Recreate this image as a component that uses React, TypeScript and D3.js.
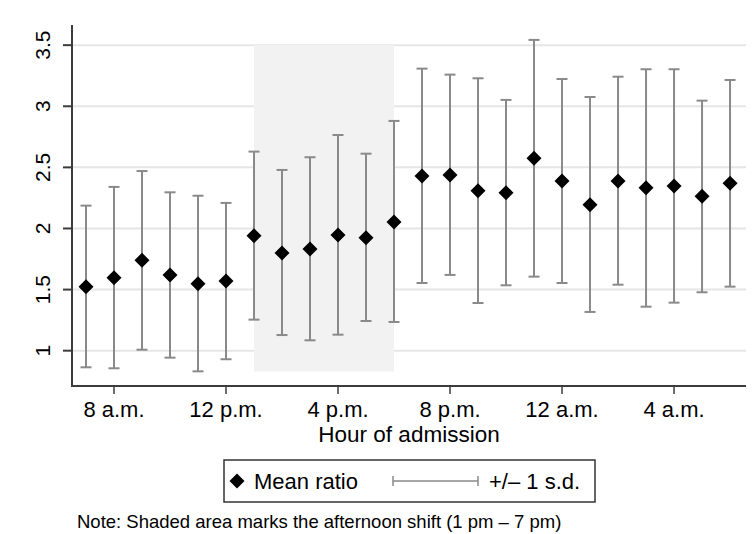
import * as d3 from "d3"

// hour of admission (7 = 7 a.m. ... 30 = 6 a.m. next day)
const hours = [7, 8, 9, 10, 11, 12, 13, 14, 15, 16, 17, 18, 19, 20, 21, 22, 23, 24, 25, 26, 27, 28, 29, 30]
const meanRatio = [
  1.524, 1.597, 1.74, 1.62, 1.548, 1.57, 1.941, 1.8, 1.832, 1.947, 1.925, 2.053,
  2.43, 2.438, 2.309, 2.293, 2.574, 2.389, 2.195, 2.389, 2.334, 2.348, 2.264, 2.37,
]
const upperSd = [
  2.187, 2.34, 2.47, 2.296, 2.268, 2.209, 2.629, 2.479, 2.583, 2.765, 2.612, 2.88,
  3.308, 3.259, 3.229, 3.052, 3.543, 3.223, 3.076, 3.242, 3.303, 3.303, 3.046, 3.215,
]
const lowerSd = [
  0.864, 0.856, 1.008, 0.943, 0.831, 0.93, 1.254, 1.128, 1.085, 1.131, 1.243, 1.235,
  1.554, 1.62, 1.39, 1.535, 1.606, 1.554, 1.317, 1.54, 1.36, 1.393, 1.478, 1.524,
]

const xTicks = [8, 12, 16, 20, 24, 28]
const xTickLabels = ["8 a.m.", "12 p.m.", "4 p.m.", "8 p.m.", "12 a.m.", "4 a.m."]
const yTicks = [1, 1.5, 2, 2.5, 3, 3.5]
const yTickLabels = ["1", "1.5", "2", "2.5", "3", "3.5"]

// afternoon shift band
const shiftHours = [13, 18]
const shiftRange = [0.83, 3.5]

const width = 752
const height = 534
const font = "'Liberation Sans', Arial, sans-serif"

export default function App() {
  const left = 72
  const right = 746
  const top = 25
  const bottom = 386

  const x = d3.scaleLinear().domain([6.5, 30.57]).range([left, right])
  const y = d3.scaleLinear().domain([0.711, 3.665]).range([bottom, top])

  const diamond = (cx: number, cy: number, r: number) =>
    `M${cx},${cy - r}L${cx + r},${cy}L${cx},${cy + r}L${cx - r},${cy}Z`

  const capW = 5.5
  const gray = "#8a8a8a"
  const axisColor = "#3c3c3c"

  return (
    <svg
      width={width}
      height={height}
      style={{ position: "absolute", left: 0, top: 0, background: "#fff" }}
      fontFamily={font}
    >
      {/* grid */}
      {yTicks.map((t) => (
        <line key={"g" + t} x1={left} x2={right} y1={y(t)} y2={y(t)} stroke="#e6e6e6" strokeWidth={2} />
      ))}

      {/* shaded afternoon shift */}
      <rect
        x={x(shiftHours[0])}
        width={x(shiftHours[1]) - x(shiftHours[0])}
        y={y(shiftRange[1])}
        height={y(shiftRange[0]) - y(shiftRange[1])}
        fill="#f2f2f2"
      />

      {/* error bars */}
      {hours.map((h, i) => (
        <g key={"e" + h} stroke={gray} strokeWidth={2}>
          <line x1={x(h)} x2={x(h)} y1={y(upperSd[i])} y2={y(lowerSd[i])} />
          <line x1={x(h) - capW} x2={x(h) + capW} y1={y(upperSd[i])} y2={y(upperSd[i])} />
          <line x1={x(h) - capW} x2={x(h) + capW} y1={y(lowerSd[i])} y2={y(lowerSd[i])} />
        </g>
      ))}

      {/* means */}
      {hours.map((h, i) => (
        <path key={"m" + h} d={diamond(x(h), y(meanRatio[i]), 7.5)} fill="#000" />
      ))}

      {/* axes */}
      <line x1={left} x2={left} y1={top} y2={bottom} stroke={axisColor} strokeWidth={2} />
      <line x1={left - 1} x2={right} y1={bottom} y2={bottom} stroke={axisColor} strokeWidth={2} />
      {yTicks.map((t, i) => (
        <g key={"yt" + t}>
          <line x1={left - 9} x2={left} y1={y(t)} y2={y(t)} stroke={axisColor} strokeWidth={2} />
          <text
            transform={`translate(${left - 22},${y(t)}) rotate(-90)`}
            textAnchor="middle"
            fontSize={21}
            fill="#000"
          >
            {yTickLabels[i]}
          </text>
        </g>
      ))}
      {xTicks.map((t, i) => (
        <g key={"xt" + t}>
          <line x1={x(t)} x2={x(t)} y1={bottom} y2={bottom + 8} stroke={axisColor} strokeWidth={1.5} />
          <text x={x(t)} y={417} textAnchor="middle" fontSize={22} fill="#000">
            {xTickLabels[i]}
          </text>
        </g>
      ))}
      <text x={(left + right) / 2} y={441.5} textAnchor="middle" fontSize={22.5} fill="#000">
        Hour of admission
      </text>

      {/* legend */}
      <rect x={224} y={460} width={371} height={42} fill="#fff" stroke="#333" strokeWidth={1.5} />
      <path d={diamond(237, 481, 7.5)} fill="#000" />
      <text x={254} y={489} fontSize={22} fill="#000">
        Mean ratio
      </text>
      <g stroke={gray} strokeWidth={1.5}>
        <line x1={393} x2={478} y1={481} y2={481} />
        <line x1={393} x2={393} y1={476} y2={486} />
        <line x1={478} x2={478} y1={476} y2={486} />
      </g>
      <text x={489} y={489} fontSize={22} fill="#000">
        +/– 1 s.d.
      </text>

      <text x={77} y={528} fontSize={18.5} fill="#000">
        Note: Shaded area marks the afternoon shift (1 pm – 7 pm)
      </text>
    </svg>
  )
}
